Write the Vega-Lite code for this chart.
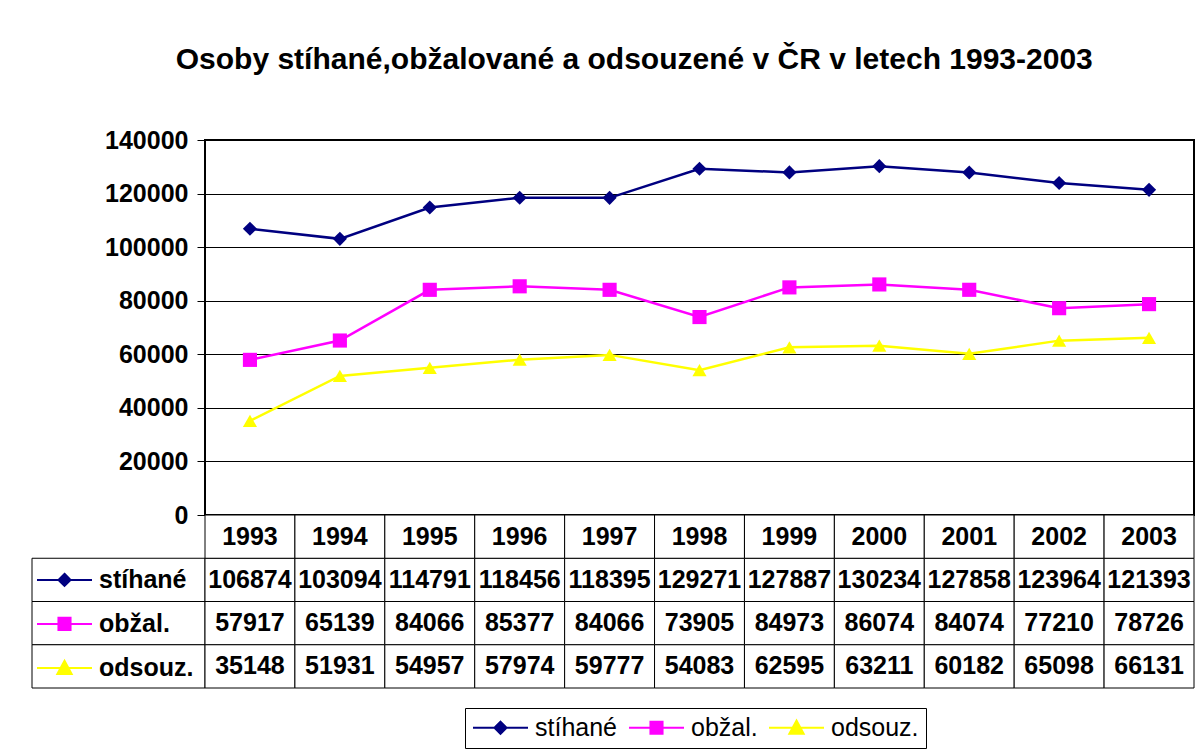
{
  "$schema": "https://vega.github.io/schema/vega-lite/v6.json",
  "padding": {"left": 31, "top": 45, "right": 9, "bottom": 5},
  "title": {
    "text": "Osoby stíhané,obžalované a odsouzené v ČR v letech 1993-2003",
    "font": "Liberation Sans",
    "fontSize": 30,
    "fontWeight": "bold",
    "color": "black",
    "anchor": "middle",
    "frame": "bounds",
    "dx": 21,
    "offset": 52
  },
  "datasets": {
    "d": [
      {"series": "stíhané", "year": "1993", "value": 106874},
      {"series": "stíhané", "year": "1994", "value": 103094},
      {"series": "stíhané", "year": "1995", "value": 114791},
      {"series": "stíhané", "year": "1996", "value": 118456},
      {"series": "stíhané", "year": "1997", "value": 118395},
      {"series": "stíhané", "year": "1998", "value": 129271},
      {"series": "stíhané", "year": "1999", "value": 127887},
      {"series": "stíhané", "year": "2000", "value": 130234},
      {"series": "stíhané", "year": "2001", "value": 127858},
      {"series": "stíhané", "year": "2002", "value": 123964},
      {"series": "stíhané", "year": "2003", "value": 121393},
      {"series": "obžal.", "year": "1993", "value": 57917},
      {"series": "obžal.", "year": "1994", "value": 65139},
      {"series": "obžal.", "year": "1995", "value": 84066},
      {"series": "obžal.", "year": "1996", "value": 85377},
      {"series": "obžal.", "year": "1997", "value": 84066},
      {"series": "obžal.", "year": "1998", "value": 73905},
      {"series": "obžal.", "year": "1999", "value": 84973},
      {"series": "obžal.", "year": "2000", "value": 86074},
      {"series": "obžal.", "year": "2001", "value": 84074},
      {"series": "obžal.", "year": "2002", "value": 77210},
      {"series": "obžal.", "year": "2003", "value": 78726},
      {"series": "odsouz.", "year": "1993", "value": 35148},
      {"series": "odsouz.", "year": "1994", "value": 51931},
      {"series": "odsouz.", "year": "1995", "value": 54957},
      {"series": "odsouz.", "year": "1996", "value": 57974},
      {"series": "odsouz.", "year": "1997", "value": 59777},
      {"series": "odsouz.", "year": "1998", "value": 54083},
      {"series": "odsouz.", "year": "1999", "value": 62595},
      {"series": "odsouz.", "year": "2000", "value": 63211},
      {"series": "odsouz.", "year": "2001", "value": 60182},
      {"series": "odsouz.", "year": "2002", "value": 65098},
      {"series": "odsouz.", "year": "2003", "value": 66131}
    ]
  },
  "columns": 2,
  "spacing": 0,
  "bounds": "flush",
  "resolve": {
    "scale": {"x": "independent", "y": "independent", "color": "independent", "fill": "independent", "stroke": "independent", "shape": "independent"}
  },
  "config": {
    "view": {"stroke": null},
    "font": "Liberation Sans",
    "text": {"font": "Liberation Sans"}
  },
  "concat": [
    {
      "width": 173,
      "height": 375,
      "data": {"values": [{}]},
      "mark": {"type": "text", "text": ""}
    },
    {
      "width": 989,
      "height": 375,
      "view": {"stroke": "black", "strokeWidth": 2},
      "data": {"name": "d"},
      "encoding": {
        "x": {"field": "year", "type": "ordinal", "scale": {"type": "point", "padding": 0.5}, "axis": null},
        "y": {
          "field": "value", "type": "quantitative",
          "scale": {"domain": [0, 140000], "nice": false},
          "axis": {
            "values": [0, 20000, 40000, 60000, 80000, 100000, 120000, 140000],
            "format": "d", "title": null, "grid": true, "gridColor": "black", "gridWidth": 1, "gridOpacity": 1,
            "domain": false, "ticks": true, "tickColor": "black", "tickSize": 8, "tickWidth": 1,
            "labelFont": "Liberation Sans", "labelFontSize": 25, "labelFontWeight": "bold", "labelColor": "black", "labelPadding": 9
          }
        },
        "color": {
          "field": "series", "type": "nominal",
          "scale": {"domain": ["stíhané", "obžal.", "odsouz."], "range": ["#000080", "#FF00FF", "#FFFF00"]},
          "legend": null
        }
      },
      "layer": [
        {"mark": {"type": "line", "strokeWidth": 2.5}},
        {
          "mark": {"type": "point", "filled": true, "size": 200, "opacity": 1},
          "encoding": {
            "shape": {
              "field": "series", "type": "nominal",
              "scale": {"domain": ["stíhané", "obžal.", "odsouz."], "range": ["diamond", "square", "triangle-up"]},
              "legend": null
            }
          }
        }
      ]
    },
    {
      "width": 173,
      "height": 173,
      "data": {"name": "d"},
      "layer": [
        {
          "transform": [{"filter": "datum.year === '1993'"}],
          "mark": {"type": "rect", "fill": "white", "stroke": "black", "strokeWidth": 1},
          "encoding": {
            "y": {"field": "series", "type": "nominal", "scale": {"domain": ["rok", "stíhané", "obžal.", "odsouz."], "paddingInner": 0, "paddingOuter": 0}, "axis": null}
          }
        },
        {
          "transform": [{"filter": "false"}],
          "mark": {"type": "point", "filled": true, "strokeWidth": 2, "opacity": 1},
          "encoding": {
            "fill": {
              "field": "series", "type": "nominal",
              "scale": {"domain": ["stíhané", "obžal.", "odsouz."], "range": ["#000080", "#FF00FF", "#FFFF00"]},
              "legend": {
                "orient": "none", "legendX": 4, "legendY": 43.25, "direction": "vertical", "title": null,
                "symbolSize": 3025, "symbolStrokeWidth": 2, "symbolOpacity": 1,
                "labelFont": "Liberation Sans", "labelFontSize": 25, "labelFontWeight": "bold", "labelColor": "black",
                "labelOffset": 6, "rowPadding": 0, "clipHeight": 43.25, "padding": 0
              }
            },
            "stroke": {
              "field": "series", "type": "nominal",
              "scale": {"domain": ["stíhané", "obžal.", "odsouz."], "range": ["#000080", "#FF00FF", "#FFFF00"]}
            },
            "shape": {
              "field": "series", "type": "nominal",
              "scale": {"domain": ["stíhané", "obžal.", "odsouz."], "range": ["M-1,0H1M0,-0.22L0.22,0L0,0.22L-0.22,0Z", "M-1,0H1M-0.22,-0.22H0.22V0.22H-0.22Z", "M-1,0H1M0,-0.26L0.26,0.22L-0.26,0.22Z"]}
            }
          }
        }
      ]
    },
    {
      "width": 989,
      "height": 173,
      "data": {"name": "d"},
      "encoding": {
        "x": {"field": "year", "type": "ordinal", "scale": {"type": "band", "paddingInner": 0, "paddingOuter": 0}, "axis": null}
      },
      "layer": [
        {
          "mark": {"type": "rect", "fill": "white", "stroke": "black", "strokeWidth": 1},
          "encoding": {
            "y": {"field": "series", "type": "nominal", "scale": {"domain": ["rok", "stíhané", "obžal.", "odsouz."], "paddingInner": 0, "paddingOuter": 0}, "axis": null}
          }
        },
        {
          "mark": {"type": "text", "font": "Liberation Sans", "fontSize": 25, "fontWeight": "bold", "color": "black"},
          "encoding": {
            "y": {"field": "series", "type": "nominal"},
            "text": {"field": "value", "type": "quantitative", "format": "d"}
          }
        },
        {
          "transform": [{"filter": "datum.series === 'stíhané'"}],
          "mark": {"type": "rect", "fill": "white", "stroke": "black", "strokeWidth": 1},
          "encoding": {"y": {"datum": "rok"}}
        },
        {
          "transform": [{"filter": "datum.series === 'stíhané'"}],
          "mark": {"type": "text", "font": "Liberation Sans", "fontSize": 25, "fontWeight": "bold", "color": "black"},
          "encoding": {"y": {"datum": "rok"}, "text": {"field": "year", "type": "nominal"}}
        },
        {
          "transform": [{"filter": "false"}],
          "mark": {"type": "point", "filled": true, "strokeWidth": 2, "opacity": 1},
          "encoding": {
            "fill": {
              "field": "series", "type": "nominal",
              "scale": {"domain": ["stíhané", "obžal.", "odsouz."], "range": ["#000080", "#FF00FF", "#FFFF00"]},
              "legend": {
                "orient": "none", "legendX": 260, "legendY": 193, "direction": "horizontal", "title": null,
                "symbolSize": 3025, "symbolStrokeWidth": 2, "symbolOpacity": 1,
                "labelFont": "Liberation Sans", "labelFontSize": 25, "labelFontWeight": "normal", "labelColor": "black",
                "labelOffset": 6, "columnPadding": 10, "padding": 7, "clipHeight": 25, "strokeColor": "black", "fillColor": "white"
              }
            },
            "stroke": {
              "field": "series", "type": "nominal",
              "scale": {"domain": ["stíhané", "obžal.", "odsouz."], "range": ["#000080", "#FF00FF", "#FFFF00"]}
            },
            "shape": {
              "field": "series", "type": "nominal",
              "scale": {"domain": ["stíhané", "obžal.", "odsouz."], "range": ["M-1,0H1M0,-0.22L0.22,0L0,0.22L-0.22,0Z", "M-1,0H1M-0.22,-0.22H0.22V0.22H-0.22Z", "M-1,0H1M0,-0.26L0.26,0.22L-0.26,0.22Z"]}
            }
          }
        }
      ]
    }
  ]
}
